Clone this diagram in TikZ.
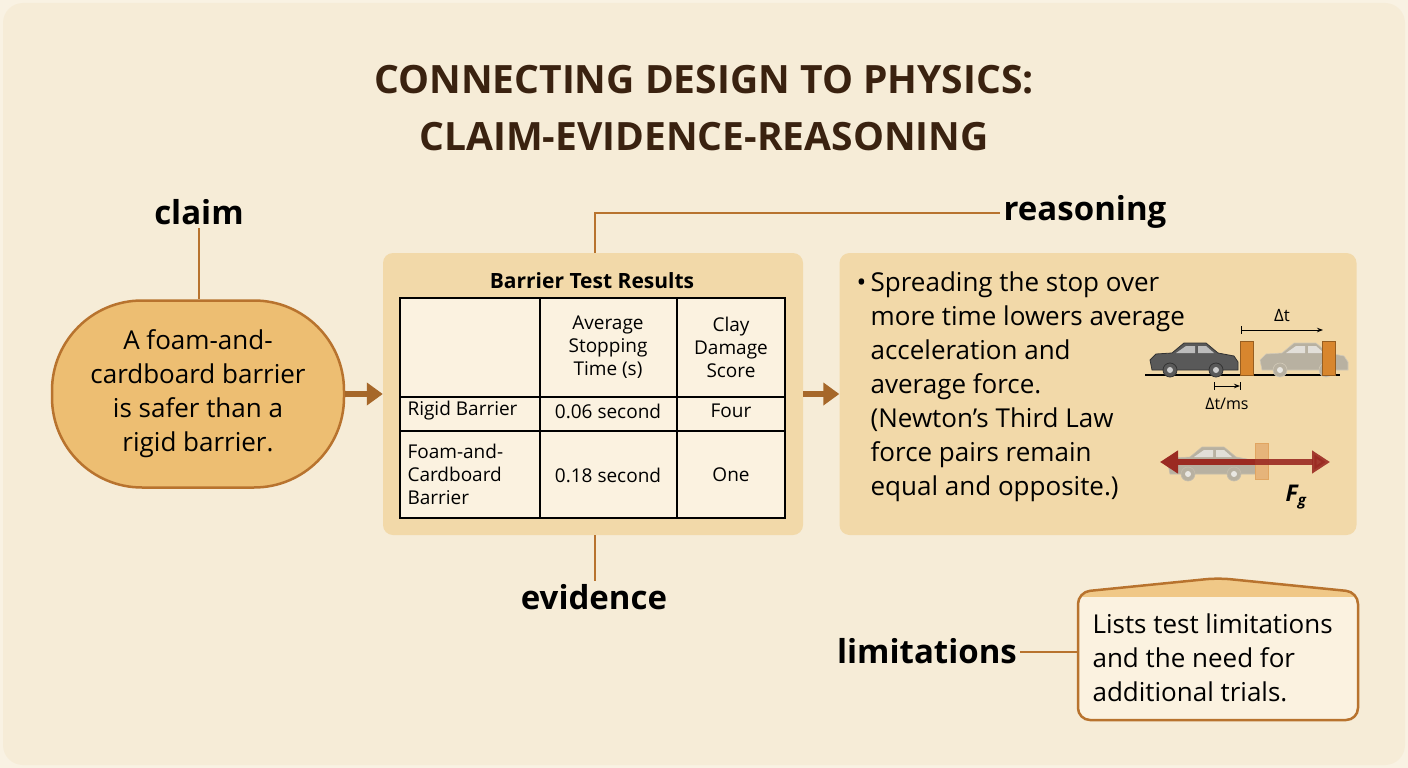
\documentclass[tikz,border=0pt]{standalone}
\usepackage{fontspec}
\setmainfont{Open Sans}
\usetikzlibrary{arrows.meta}
\definecolor{bg}{HTML}{F6ECD7}
\definecolor{ttl}{HTML}{3A2210}
\definecolor{brn}{HTML}{B8732E}
\definecolor{claimf}{HTML}{EDBE72}
\definecolor{panel}{HTML}{F2D9A9}
\definecolor{tab}{HTML}{FBF2E0}
\definecolor{blk}{HTML}{D8862E}
\definecolor{redd}{HTML}{9B2A22}
\tikzset{
  lbl/.style={font=\fontsize{33}{36}\selectfont\bfseries, text=black},
  conn/.style={draw=brn, line width=2pt},
  arr/.style={draw=brn!90!black, line width=6pt, -{Triangle[length=16pt,width=22pt]}},
  panelst/.style={fill=panel, draw=none, rounded corners=10pt},
  body/.style={font=\fontsize{26}{34}\selectfont, text=black},
  cell/.style={font=\fontsize{19}{23}\selectfont, align=center, text=black},
  car/.pic={
    \path[pic actions] (2,28) -- (0,18) -- (6,12) -- (22,11) -- (34,1) -- (56,1) -- (68,11) -- (84,14) -- (88,20) -- (88,28) -- cycle;
    \fill[white,opacity=0.6] (26,11)--(36,4)--(45,4)--(45,11)--cycle (48,4)--(56,4)--(64,11)--(48,11)--cycle;
    \path[pic actions] (20,28) circle (7) (66,28) circle (7);
    \fill[white,opacity=0.7] (20,28) circle (3) (66,28) circle (3);
  }
}
\begin{document}
\begin{tikzpicture}[x=1pt,y=-1pt]
\useasboundingbox (0,0) rectangle (1408,768);
\fill[bg!70!white] (0,0) rectangle (1408,768);
\fill[bg,rounded corners=20pt] (3,3) rectangle (1405,765);
% title
\node[font=\fontsize{39}{57}\selectfont\bfseries, text=ttl, align=center] (title) at (704,108) {CONNECTING DESIGN TO PHYSICS:\\CLAIM-EVIDENCE-REASONING};
% claim
\node[lbl] (claimlbl) at (199,212) {claim};
\node[draw=brn, line width=2.5pt, fill=claimf, rounded corners=90pt, minimum width=292pt, minimum height=187pt, body, align=center, font=\fontsize{26}{34}\selectfont] (claim) at (198,394) {A foam-and-\\cardboard barrier\\is safer than a\\rigid barrier.};
\draw[conn] (claimlbl.south) -- (claimlbl.south |- claim.north);
% evidence panel
\node[panelst, minimum width=420pt, minimum height=282pt] (evp) at (593,394) {};
\node[font=\fontsize{21}{24}\selectfont\bfseries] (evt) at (592,281) {Barrier Test Results};
\fill[tab] (400,298) rectangle (785,518);
\draw[line width=1.4pt] (400,298) rectangle (785,518);
\draw[line width=1.2pt] (540,298) -- (540,518) (677,298) -- (677,518) (400,397) -- (785,397) (400,431) -- (785,431);
\node[cell] at (608,347) {Average\\Stopping\\Time (s)};
\node[cell] at (731,347) {Clay\\Damage\\Score};
\node[cell, anchor=west] at (404,411) {Rigid Barrier};
\node[cell] at (608,411) {0.06 second};
\node[cell] at (731,411) {Four};
\node[cell, align=left, anchor=west] at (404,474) {Foam-and-\\Cardboard\\Barrier};
\node[cell] at (608,475) {0.18 second};
\node[cell] at (731,475) {One};
\draw[arr] (claim.east) -- (evp.west);
% reasoning
\node[lbl] (reslbl) at (1085,212) {reasoning};
\coordinate (rc) at (595,213);
\draw[conn] (evp.north -| rc) -- (rc) -- (rc -| reslbl.west);
\node[lbl] (evlbl) at (594,597) {evidence};
\draw[conn] (evp.south -| rc) -- (evlbl.north -| rc);
\node[panelst, minimum width=517pt, minimum height=282pt] (rp) at (1098,394) {};
\draw[arr] (evp.east) -- (rp.west);
\node[body, anchor=north west, align=left] (rt) at (853,268) {•\,Spreading the stop over\\\phantom{•\,}more time lowers average\\\phantom{•\,}acceleration and\\\phantom{•\,}average force.\\\phantom{•\,}(Newton’s Third Law\\\phantom{•\,}force pairs remain\\\phantom{•\,}equal and opposite.)};
% car diagram 1
\draw[line width=2pt] (1145,375) -- (1340,375);
\pic[fill=black!65, draw=black!80, line width=0.8pt] at (1150,342) {car};
\pic[fill=black!25!bg, draw=black!15!bg, line width=0.6pt] at (1260,342) {car};
\node[fill=blk, draw=blk!70!black, minimum width=13pt, minimum height=34pt, inner sep=0] (b1) at (1247,358) {};
\node[fill=blk, draw=blk!70!black, minimum width=13pt, minimum height=34pt, inner sep=0] (b2) at (1329,358) {};
\coordinate (dt1) at (1241,330);
\coordinate (dt2) at (1323,330);
\draw[line width=1pt] (dt1) ++(0,-4) -- ++(0,8);
\draw[line width=1pt, -{Stealth[length=6pt]}] (dt1) -- (dt2);
\node[font=\fontsize{17}{19}\selectfont] (dtl) at (1282,316) {Δt};
\coordinate (s1) at (1214,386);
\coordinate (s2) at (1240,386);
\draw[line width=1pt] (s1) ++(0,-4) -- ++(0,8);
\draw[line width=1pt] (s2) ++(0,-4) -- ++(0,8);
\draw[line width=1pt, -{Stealth[length=6pt]}] (s1) -- (s2);
\node[font=\fontsize{16}{18}\selectfont] (dtms) at (1227,404) {Δt/ms};
% car diagram 2
\pic[fill=black!25!bg, draw=black!20!bg, line width=0.6pt] at (1168,446) {car};
\node[fill=blk!55!bg, draw=blk!70!bg, minimum width=13pt, minimum height=36pt, inner sep=0] (b3) at (1262,461) {};
\coordinate (fa) at (1255,462);
\coordinate (fl) at (1160,462);
\coordinate (fr) at (1330,462);
\draw[draw=redd, line width=6pt, -{Triangle[length=18pt,width=22pt]}] (fa) -- (fl);
\draw[draw=redd, line width=6pt, opacity=0.9, -{Triangle[length=18pt,width=22pt]}] (fa) -- (fr);
\node[font=\fontsize{23}{24}\selectfont\bfseries\itshape] (fg) at (1296,497) {F\textsubscript{\fontsize{15}{15}\selectfont g}};
% limitations
\node[lbl] (limlbl) at (927,651) {limitations};
\fill[tab, rounded corners=12pt] (1078,720) -- (1078,592) -- (1218,578) -- (1358,592) -- (1358,720) -- cycle;
\begin{scope}
\clip[rounded corners=12pt] (1078,720) -- (1078,592) -- (1218,578) -- (1358,592) -- (1358,720) -- cycle;
\fill[claimf!85!white] (1070,570) rectangle (1370,597);
\end{scope}
\draw[brn, line width=2.5pt, rounded corners=12pt] (1078,720) -- (1078,592) -- (1218,578) -- (1358,592) -- (1358,720) -- cycle;
\node[font=\fontsize{26}{34}\selectfont, align=left, anchor=west] (lim) at (1089,658) {Lists test limitations\\and the need for\\additional trials.};
\coordinate (lb) at (1078,652);
\draw[conn] (limlbl.east |- lb) -- (lb);
\end{tikzpicture}
\end{document}
